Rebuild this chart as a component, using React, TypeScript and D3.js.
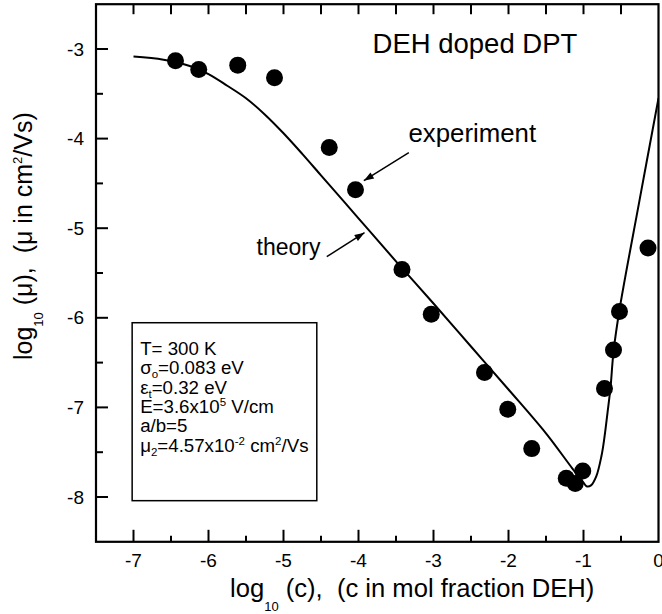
import React from "react";
import * as d3 from "d3";

// experimental data (log10 c, log10 mu)
const expX = [-6.44, -6.13, -5.61, -5.12, -4.39, -4.04, -3.42, -3.03, -2.32, -2.01, -1.69, -1.23, -1.11, -1.01, -0.72, -0.6, -0.52, -0.14];
const expY = [-3.13, -3.23, -3.18, -3.32, -4.1, -4.57, -5.46, -5.96, -6.61, -7.02, -7.46, -7.79, -7.85, -7.71, -6.79, -6.36, -5.93, -5.22];

// theory curve
const theoryX = [-7.0, -6.6, -6.25, -6.0, -5.75, -5.5, -5.25, -5.0, -4.75, -4.5, -4.0, -3.5, -3.0, -2.5, -2.0, -1.5, -1.15, -1.0, -0.96, -0.9, -0.83, -0.76, -0.72, -0.68, -0.64, -0.6, -0.52, -0.26, 0.0];
const theoryY = [-3.085, -3.12, -3.19, -3.28, -3.41, -3.55, -3.73, -3.94, -4.17, -4.41, -4.89, -5.37, -5.84, -6.32, -6.8, -7.29, -7.68, -7.84, -7.88, -7.87, -7.77, -7.54, -7.33, -7.06, -6.78, -6.38, -5.91, -4.72, -3.55];

const xTicks = [-7, -6, -5, -4, -3, -2, -1, 0];
const xMinor = [-6.5, -5.5, -4.5, -3.5, -2.5, -1.5, -0.5];
const yTicks = [-3, -4, -5, -6, -7, -8];
const yMinor = [-3.5, -4.5, -5.5, -6.5, -7.5];

// annotations in data coordinates
const titleText = "DEH doped DPT";
const titlePos = [-3.813, -3.045];
const expLabelPos = [-3.333, -4.038];
const expArrow = [[-3.329, -4.157], [-3.929, -4.47]];
const thLabelPos = [-5.36, -5.299];
const thArrow = [[-4.423, -5.318], [-3.92, -5.05]];
const legendBox = [[-7.018, -6.055], [-4.556, -8.041]];

type Seg = { t: string; sub?: boolean; sup?: boolean };
const legendLines: Seg[][] = [
  [{ t: "T= 300 K" }],
  [{ t: "σ" }, { t: "o", sub: true }, { t: "=0.083 eV" }],
  [{ t: "ε" }, { t: "t", sub: true }, { t: "=0.32 eV" }],
  [{ t: "E=3.6x10" }, { t: "5", sup: true }, { t: " V/cm" }],
  [{ t: "a/b=5" }],
  [{ t: "μ" }, { t: "2", sub: true }, { t: "=4.57x10" }, { t: "-2", sup: true }, { t: " cm" }, { t: "2", sup: true }, { t: "/Vs" }],
];

const FONT = "'Liberation Sans', Arial, Helvetica, sans-serif";

function renderSegs(segs: Seg[], small: number, subDy: number, supDy: number) {
  const out: React.ReactNode[] = [];
  let cur = 0;
  segs.forEach((s, i) => {
    const target = s.sub ? subDy : s.sup ? supDy : 0;
    const dy = target - cur;
    cur = target;
    out.push(
      <tspan key={i} dy={dy} fontSize={s.sub || s.sup ? small : undefined}>
        {s.t}
      </tspan>
    );
  });
  return out;
}

function arrowHead(x1: number, y1: number, x2: number, y2: number, len = 10, hw = 3.5) {
  const dx = x2 - x1, dy = y2 - y1;
  const L = Math.hypot(dx, dy);
  const ux = dx / L, uy = dy / L;
  const bx = x2 - ux * len, by = y2 - uy * len;
  return `${x2},${y2} ${bx - uy * hw},${by + ux * hw} ${bx + uy * hw},${by - ux * hw}`;
}

export default function App() {
  const W = 662, H = 614;
  const x = d3.scaleLinear().domain([-7.5, 0]).range([96, 658.5]);
  const y = d3.scaleLinear().domain([-8.5, -2.5]).range([541.8, 4.2]);
  const x0 = x(-7.5), x1 = x(0), yB = y(-8.5), yT = y(-2.5);

  const line = d3
    .line<number>()
    .x((d) => x(theoryX[d]))
    .y((d) => y(theoryY[d]))
    .curve(d3.curveCatmullRom.alpha(0.5));
  const idx = theoryX.map((_, i) => i);

  const eA = expArrow.map(([a, b]) => [x(a), y(b)]);
  const tA = thArrow.map(([a, b]) => [x(a), y(b)]);

  return (
    <svg width={W} height={H} style={{ position: "absolute", left: 0, top: 0, background: "#fff" }} fontFamily={FONT}>
      <rect x={0} y={0} width={W} height={H} fill="#fff" />
      <defs>
        <clipPath id="plotclip">
          <rect x={x0} y={yT} width={x1 - x0} height={yB - yT} />
        </clipPath>
      </defs>

      {/* ticks */}
      <g stroke="#000" strokeWidth={2}>
        {xTicks.filter((t) => t < 0).map((t) => (
          <line key={"xb" + t} x1={x(t)} x2={x(t)} y1={yB} y2={yB - 12} />
        ))}
        {xMinor.map((t) => (
          <line key={"xbm" + t} x1={x(t)} x2={x(t)} y1={yB} y2={yB - 6} />
        ))}
        {[...xTicks.filter((t) => t < 0), ...xMinor].map((t) => (
          <line key={"xt" + t} x1={x(t)} x2={x(t)} y1={yT} y2={yT + 10} />
        ))}
        {yTicks.map((t) => (
          <line key={"yl" + t} x1={x0} x2={x0 + 12} y1={y(t)} y2={y(t)} />
        ))}
        {yMinor.map((t) => (
          <line key={"ylm" + t} x1={x0} x2={x0 + 7} y1={y(t)} y2={y(t)} />
        ))}
      </g>

      {/* frame */}
      <rect x={x0} y={yT} width={x1 - x0} height={yB - yT} fill="none" stroke="#000" strokeWidth={2.2} />

      {/* tick labels */}
      <g fontSize={19} fill="#000">
        {xTicks.map((t) => (
          <text key={"xl" + t} x={x(t)} y={567} textAnchor="middle">
            {t === 0 ? "0" : "-" + Math.abs(t)}
          </text>
        ))}
        {yTicks.map((t) => (
          <text key={"ylb" + t} x={84} y={y(t)} dy="0.35em" textAnchor="end">
            {"-" + Math.abs(t)}
          </text>
        ))}
      </g>

      {/* axis titles */}
      <text x={230} y={597} fontSize={25.6} fill="#000">
        log<tspan fontSize={13} dy={14}>10</tspan>
        <tspan dy={-14} xmlSpace="preserve">{" (c),  (c in mol fraction DEH)"}</tspan>
      </text>
      <text transform="translate(32,360) rotate(-90)" fontSize={25} fill="#000">
        log<tspan fontSize={13} dy={11}>10</tspan>
        <tspan dy={-11} xmlSpace="preserve">{" (μ),  (μ in cm"}</tspan>
        <tspan fontSize={13} dy={-10}>2</tspan>
        <tspan dy={10}>/Vs)</tspan>
      </text>

      {/* theory curve */}
      <path d={line(idx) || ""} fill="none" stroke="#000" strokeWidth={2} clipPath="url(#plotclip)" />

      {/* experimental points */}
      <g fill="#000">
        {expX.map((v, i) => (
          <circle key={"p" + i} cx={x(v)} cy={y(expY[i])} r={8.5} />
        ))}
      </g>

      {/* title & annotations */}
      <text x={x(titlePos[0])} y={y(titlePos[1])} fontSize={27.5} fill="#000">
        {titleText}
      </text>
      <text x={x(expLabelPos[0])} y={y(expLabelPos[1])} fontSize={25.8} fill="#000">
        experiment
      </text>
      <line x1={eA[0][0]} y1={eA[0][1]} x2={eA[1][0]} y2={eA[1][1]} stroke="#000" strokeWidth={1.5} />
      <polygon points={arrowHead(eA[0][0], eA[0][1], eA[1][0], eA[1][1])} fill="#000" />
      <text x={x(thLabelPos[0])} y={y(thLabelPos[1])} fontSize={23} fill="#000">
        theory
      </text>
      <line x1={tA[0][0]} y1={tA[0][1]} x2={tA[1][0]} y2={tA[1][1]} stroke="#000" strokeWidth={1.5} />
      <polygon points={arrowHead(tA[0][0], tA[0][1], tA[1][0], tA[1][1])} fill="#000" />

      {/* parameter box */}
      <rect
        x={x(legendBox[0][0])}
        y={y(legendBox[0][1])}
        width={x(legendBox[1][0]) - x(legendBox[0][0])}
        height={y(legendBox[1][1]) - y(legendBox[0][1])}
        fill="#fff"
        stroke="#000"
        strokeWidth={1.5}
      />
      <g fontSize={18.7} fill="#000">
        {legendLines.map((segs, i) => (
          <text key={"lg" + i} x={x(legendBox[0][0]) + 8} y={355 + i * 19.3} xmlSpace="preserve">
            {renderSegs(segs, 11.5, 4, -7)}
          </text>
        ))}
      </g>
    </svg>
  );
}
